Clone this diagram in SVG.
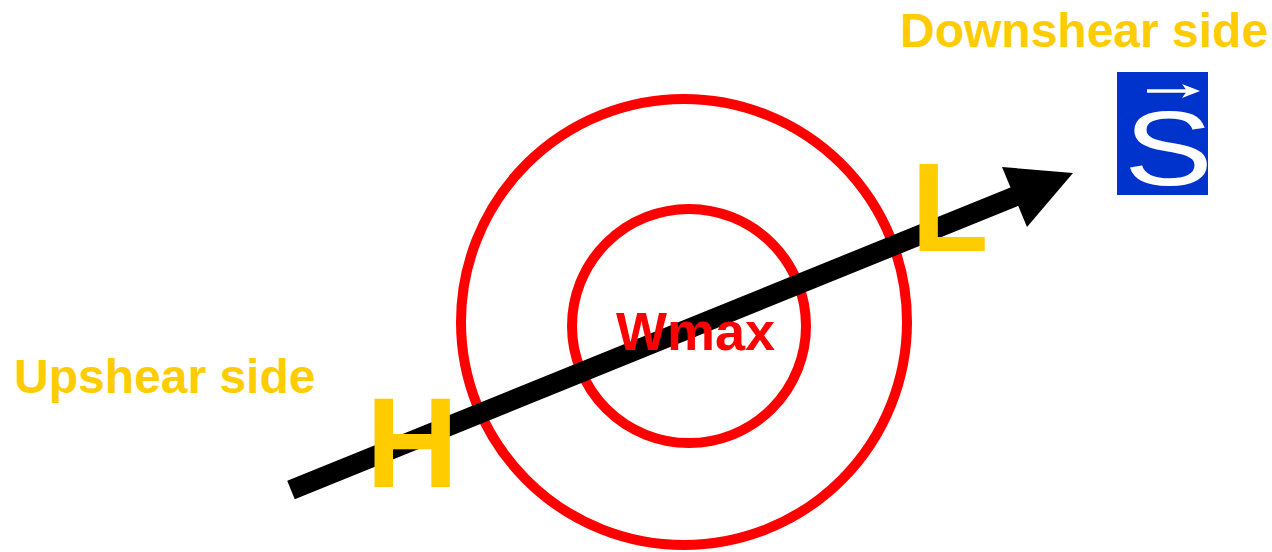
<svg xmlns="http://www.w3.org/2000/svg" width="1272" height="552" viewBox="0 0 1272 552">
<style>
.lbl{font-family:"Liberation Sans",Arial,sans-serif;font-weight:bold;fill:#FFCC00}
.ring{fill:none;stroke:#FF0000;stroke-width:10}
</style>
<rect width="1272" height="552" fill="#FFFFFF"/>
<g id="outer-ring"><circle class="ring" cx="684" cy="322" r="223"/></g>
<g id="inner-ring"><circle class="ring" cx="689" cy="326" r="117"/></g>
<g id="connectors">
<line x1="291" y1="490" x2="1016" y2="196" stroke="#000" stroke-width="20"/>
<polygon points="1073,173 1002,167 1027,227" fill="#000"/>
</g>
<g id="wmax"><text x="616" y="350" font-family="Liberation Sans,Arial,sans-serif" font-weight="bold" font-size="54" fill="#FF0000">Wmax</text></g>
<g id="H"><text class="lbl" x="366" y="487" font-size="128">H</text></g>
<g id="L"><text class="lbl" x="911" y="251" font-size="127">L</text></g>
<g id="upshear"><text class="lbl" x="14" y="393" font-size="48">Upshear side</text></g>
<g id="downshear"><text class="lbl" x="900" y="47" font-size="48">Downshear side</text></g>
<g id="shear-vector">
<rect x="1117" y="72" width="91" height="123" fill="#0033CC"/>
<text transform="translate(1168.5,185) scale(1.27,1)" x="0" y="0" text-anchor="middle" font-family="Liberation Sans,Arial,sans-serif" font-size="105" fill="#FFFFFF">S</text>
<line x1="1147" y1="91" x2="1188" y2="91" stroke="#FFFFFF" stroke-width="3.5"/>
<polygon points="1200,91 1182,84 1187,91 1182,98" fill="#FFFFFF"/>
</g>
</svg>
